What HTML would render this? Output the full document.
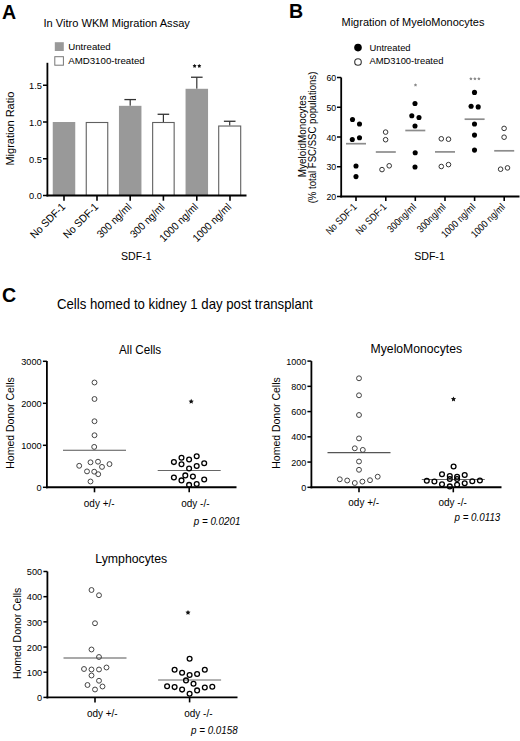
<!DOCTYPE html>
<html><head><meta charset="utf-8"><style>
html,body{margin:0;padding:0;background:#fff;}
svg{display:block;font-family:"Liberation Sans", sans-serif;}
</style></head><body>
<svg width="520" height="741" viewBox="0 0 520 741">
<rect x="0" y="0" width="520" height="741" fill="#fff"/>
<text transform="translate(1.90 18.70) scale(1 1.04)" font-size="19.6" text-anchor="start" font-weight="bold" font-style="normal" fill="#000">A</text>
<text transform="translate(43.50 27.00) scale(1 1.06)" font-size="11.1" text-anchor="start" font-weight="normal" font-style="normal" fill="#000">In Vitro WKM Migration Assay</text>
<rect x="54.80" y="42.20" width="9.00" height="8.80" fill="#999" stroke="none" stroke-width="1"/>
<text transform="translate(68.20 49.50)" font-size="9.7" text-anchor="start" font-weight="normal" font-style="normal" fill="#000">Untreated</text>
<rect x="54.80" y="56.70" width="8.60" height="8.50" fill="#fff" stroke="#777" stroke-width="1"/>
<text transform="translate(68.20 63.50)" font-size="9.7" text-anchor="start" font-weight="normal" font-style="normal" fill="#000">AMD3100-treated</text>
<rect x="52.75" y="122.00" width="22.50" height="73.50" fill="#999" stroke="none" stroke-width="1"/>
<rect x="86.25" y="122.50" width="21.50" height="73.00" fill="#fff" stroke="#606060" stroke-width="1.1"/>
<line x1="130.20" y1="99.58" x2="130.20" y2="105.83" stroke="#333" stroke-width="1.2"/>
<line x1="124.40" y1="99.58" x2="136.00" y2="99.58" stroke="#333" stroke-width="1.3"/>
<rect x="118.95" y="105.83" width="22.50" height="89.67" fill="#999" stroke="none" stroke-width="1"/>
<line x1="163.40" y1="114.28" x2="163.40" y2="122.00" stroke="#333" stroke-width="1.2"/>
<line x1="157.60" y1="114.28" x2="169.20" y2="114.28" stroke="#333" stroke-width="1.3"/>
<rect x="152.65" y="122.50" width="21.50" height="73.00" fill="#fff" stroke="#606060" stroke-width="1.1"/>
<line x1="196.80" y1="77.24" x2="196.80" y2="88.78" stroke="#333" stroke-width="1.2"/>
<line x1="191.00" y1="77.24" x2="202.60" y2="77.24" stroke="#333" stroke-width="1.3"/>
<rect x="185.55" y="88.78" width="22.50" height="106.72" fill="#999" stroke="none" stroke-width="1"/>
<line x1="229.70" y1="121.27" x2="229.70" y2="125.53" stroke="#333" stroke-width="1.2"/>
<line x1="223.90" y1="121.27" x2="235.50" y2="121.27" stroke="#333" stroke-width="1.3"/>
<rect x="218.70" y="126.03" width="22.00" height="69.47" fill="#fff" stroke="#606060" stroke-width="1.1"/>
<line x1="47.40" y1="62.80" x2="47.40" y2="196.40" stroke="#000" stroke-width="1.8"/>
<line x1="43.00" y1="195.50" x2="47.40" y2="195.50" stroke="#000" stroke-width="1.5"/>
<text transform="translate(42.00 199.36) scale(1 1.07)" font-size="9.3" text-anchor="end" font-weight="normal" font-style="normal" fill="#000">0.0</text>
<line x1="43.00" y1="158.75" x2="47.40" y2="158.75" stroke="#000" stroke-width="1.5"/>
<text transform="translate(42.00 162.61) scale(1 1.07)" font-size="9.3" text-anchor="end" font-weight="normal" font-style="normal" fill="#000">0.5</text>
<line x1="43.00" y1="122.00" x2="47.40" y2="122.00" stroke="#000" stroke-width="1.5"/>
<text transform="translate(42.00 125.86) scale(1 1.07)" font-size="9.3" text-anchor="end" font-weight="normal" font-style="normal" fill="#000">1.0</text>
<line x1="43.00" y1="85.25" x2="47.40" y2="85.25" stroke="#000" stroke-width="1.5"/>
<text transform="translate(42.00 89.11) scale(1 1.07)" font-size="9.3" text-anchor="end" font-weight="normal" font-style="normal" fill="#000">1.5</text>
<line x1="46.50" y1="195.50" x2="246.50" y2="195.50" stroke="#000" stroke-width="1.9"/>
<line x1="64.00" y1="195.50" x2="64.00" y2="200.70" stroke="#000" stroke-width="1.6"/>
<line x1="97.00" y1="195.50" x2="97.00" y2="200.70" stroke="#000" stroke-width="1.6"/>
<line x1="130.20" y1="195.50" x2="130.20" y2="200.70" stroke="#000" stroke-width="1.6"/>
<line x1="163.40" y1="195.50" x2="163.40" y2="200.70" stroke="#000" stroke-width="1.6"/>
<line x1="196.80" y1="195.50" x2="196.80" y2="200.70" stroke="#000" stroke-width="1.6"/>
<line x1="230.00" y1="195.50" x2="230.00" y2="200.70" stroke="#000" stroke-width="1.6"/>
<polygon points="194.60,63.90 195.28,65.07 196.60,65.35 195.70,66.36 195.83,67.70 194.60,67.16 193.37,67.70 193.50,66.36 192.60,65.35 193.92,65.07" fill="#111"/>
<polygon points="199.30,63.90 199.98,65.07 201.30,65.35 200.40,66.36 200.53,67.70 199.30,67.16 198.07,67.70 198.20,66.36 197.30,65.35 198.62,65.07" fill="#111"/>
<text transform="translate(66.00 207.60) rotate(-45) scale(1 1.08)" font-size="10" text-anchor="end" font-weight="normal" font-style="normal" fill="#000">No SDF-1</text>
<text transform="translate(99.00 207.60) rotate(-45) scale(1 1.08)" font-size="10" text-anchor="end" font-weight="normal" font-style="normal" fill="#000">No SDF-1</text>
<text transform="translate(132.20 207.60) rotate(-45) scale(1 1.08)" font-size="10" text-anchor="end" font-weight="normal" font-style="normal" fill="#000">300 ng/ml</text>
<text transform="translate(165.40 207.60) rotate(-45) scale(1 1.08)" font-size="10" text-anchor="end" font-weight="normal" font-style="normal" fill="#000">300 ng/ml</text>
<text transform="translate(198.80 207.60) rotate(-45) scale(1 1.08)" font-size="10" text-anchor="end" font-weight="normal" font-style="normal" fill="#000">1000 ng/ml</text>
<text transform="translate(232.00 207.60) rotate(-45) scale(1 1.08)" font-size="10" text-anchor="end" font-weight="normal" font-style="normal" fill="#000">1000 ng/ml</text>
<text transform="translate(121.00 260.10) scale(1 1.1)" font-size="10.6" text-anchor="start" font-weight="normal" font-style="normal" fill="#000">SDF-1</text>
<text transform="translate(14.00 128.60) rotate(-90) scale(1 1.07)" font-size="11" text-anchor="middle" font-weight="normal" font-style="normal" fill="#000">Migration Ratio</text>
<text transform="translate(289.00 18.30) scale(1 1.05)" font-size="19.6" text-anchor="start" font-weight="bold" font-style="normal" fill="#000">B</text>
<text transform="translate(341.50 25.90) scale(1 1.06)" font-size="11" text-anchor="start" font-weight="normal" font-style="normal" fill="#000">Migration of MyeloMonocytes</text>
<circle cx="358.00" cy="47.60" r="3.8" fill="#000" stroke="none" stroke-width="1"/>
<text transform="translate(369.40 50.50)" font-size="9.4" text-anchor="start" font-weight="normal" font-style="normal" fill="#000">Untreated</text>
<circle cx="358.00" cy="62.00" r="3.3" fill="#fff" stroke="#333" stroke-width="1.1"/>
<text transform="translate(369.40 64.00)" font-size="9.4" text-anchor="start" font-weight="normal" font-style="normal" fill="#000">AMD3100-treated</text>
<line x1="341.20" y1="77.50" x2="341.20" y2="197.40" stroke="#000" stroke-width="1.8"/>
<line x1="337.00" y1="196.50" x2="341.20" y2="196.50" stroke="#000" stroke-width="1.5"/>
<text transform="translate(336.20 200.11) scale(1 1.05)" font-size="8.8" text-anchor="end" font-weight="normal" font-style="normal" fill="#000">20</text>
<line x1="337.00" y1="166.75" x2="341.20" y2="166.75" stroke="#000" stroke-width="1.5"/>
<text transform="translate(336.20 170.36) scale(1 1.05)" font-size="8.8" text-anchor="end" font-weight="normal" font-style="normal" fill="#000">30</text>
<line x1="337.00" y1="137.00" x2="341.20" y2="137.00" stroke="#000" stroke-width="1.5"/>
<text transform="translate(336.20 140.61) scale(1 1.05)" font-size="8.8" text-anchor="end" font-weight="normal" font-style="normal" fill="#000">40</text>
<line x1="337.00" y1="107.25" x2="341.20" y2="107.25" stroke="#000" stroke-width="1.5"/>
<text transform="translate(336.20 110.86) scale(1 1.05)" font-size="8.8" text-anchor="end" font-weight="normal" font-style="normal" fill="#000">50</text>
<line x1="337.00" y1="77.50" x2="341.20" y2="77.50" stroke="#000" stroke-width="1.5"/>
<text transform="translate(336.20 81.11) scale(1 1.05)" font-size="8.8" text-anchor="end" font-weight="normal" font-style="normal" fill="#000">60</text>
<line x1="340.30" y1="196.50" x2="519.50" y2="196.50" stroke="#000" stroke-width="1.8"/>
<line x1="356.00" y1="196.50" x2="356.00" y2="201.00" stroke="#000" stroke-width="1.6"/>
<line x1="385.80" y1="196.50" x2="385.80" y2="201.00" stroke="#000" stroke-width="1.6"/>
<line x1="415.30" y1="196.50" x2="415.30" y2="201.00" stroke="#000" stroke-width="1.6"/>
<line x1="445.00" y1="196.50" x2="445.00" y2="201.00" stroke="#000" stroke-width="1.6"/>
<line x1="474.60" y1="196.50" x2="474.60" y2="201.00" stroke="#000" stroke-width="1.6"/>
<line x1="504.20" y1="196.50" x2="504.20" y2="201.00" stroke="#000" stroke-width="1.6"/>
<line x1="346.00" y1="143.70" x2="366.00" y2="143.70" stroke="#8c8c8c" stroke-width="1.7"/>
<circle cx="352.50" cy="119.50" r="2.55" fill="#000" stroke="none" stroke-width="1"/>
<circle cx="359.50" cy="124.00" r="2.55" fill="#000" stroke="none" stroke-width="1"/>
<circle cx="352.30" cy="139.50" r="2.55" fill="#000" stroke="none" stroke-width="1"/>
<circle cx="359.50" cy="137.80" r="2.55" fill="#000" stroke="none" stroke-width="1"/>
<circle cx="356.00" cy="166.00" r="2.55" fill="#000" stroke="none" stroke-width="1"/>
<circle cx="356.00" cy="176.60" r="2.55" fill="#000" stroke="none" stroke-width="1"/>
<line x1="375.80" y1="152.00" x2="395.80" y2="152.00" stroke="#8c8c8c" stroke-width="1.7"/>
<circle cx="385.60" cy="132.10" r="2.3" fill="#fff" stroke="#333" stroke-width="1.0"/>
<circle cx="385.60" cy="139.70" r="2.3" fill="#fff" stroke="#333" stroke-width="1.0"/>
<circle cx="389.20" cy="165.80" r="2.3" fill="#fff" stroke="#333" stroke-width="1.0"/>
<circle cx="382.00" cy="169.60" r="2.3" fill="#fff" stroke="#333" stroke-width="1.0"/>
<line x1="405.30" y1="130.50" x2="425.30" y2="130.50" stroke="#8c8c8c" stroke-width="1.7"/>
<circle cx="415.00" cy="103.50" r="2.55" fill="#000" stroke="none" stroke-width="1"/>
<circle cx="411.80" cy="115.80" r="2.55" fill="#000" stroke="none" stroke-width="1"/>
<circle cx="419.00" cy="117.50" r="2.55" fill="#000" stroke="none" stroke-width="1"/>
<circle cx="415.00" cy="126.00" r="2.55" fill="#000" stroke="none" stroke-width="1"/>
<circle cx="415.20" cy="152.80" r="2.55" fill="#000" stroke="none" stroke-width="1"/>
<circle cx="415.00" cy="167.00" r="2.55" fill="#000" stroke="none" stroke-width="1"/>
<line x1="435.00" y1="151.90" x2="455.00" y2="151.90" stroke="#8c8c8c" stroke-width="1.7"/>
<circle cx="441.30" cy="138.80" r="2.3" fill="#fff" stroke="#333" stroke-width="1.0"/>
<circle cx="448.50" cy="139.20" r="2.3" fill="#fff" stroke="#333" stroke-width="1.0"/>
<circle cx="441.30" cy="166.50" r="2.3" fill="#fff" stroke="#333" stroke-width="1.0"/>
<circle cx="448.50" cy="164.60" r="2.3" fill="#fff" stroke="#333" stroke-width="1.0"/>
<line x1="464.60" y1="119.20" x2="484.60" y2="119.20" stroke="#8c8c8c" stroke-width="1.7"/>
<circle cx="474.50" cy="92.40" r="2.55" fill="#000" stroke="none" stroke-width="1"/>
<circle cx="471.10" cy="106.20" r="2.55" fill="#000" stroke="none" stroke-width="1"/>
<circle cx="478.20" cy="106.90" r="2.55" fill="#000" stroke="none" stroke-width="1"/>
<circle cx="474.50" cy="124.00" r="2.55" fill="#000" stroke="none" stroke-width="1"/>
<circle cx="474.50" cy="135.10" r="2.55" fill="#000" stroke="none" stroke-width="1"/>
<circle cx="474.50" cy="150.10" r="2.55" fill="#000" stroke="none" stroke-width="1"/>
<line x1="494.20" y1="150.80" x2="514.20" y2="150.80" stroke="#8c8c8c" stroke-width="1.7"/>
<circle cx="504.10" cy="128.40" r="2.3" fill="#fff" stroke="#333" stroke-width="1.0"/>
<circle cx="504.10" cy="137.20" r="2.3" fill="#fff" stroke="#333" stroke-width="1.0"/>
<circle cx="500.60" cy="169.20" r="2.3" fill="#fff" stroke="#333" stroke-width="1.0"/>
<circle cx="507.50" cy="167.90" r="2.3" fill="#fff" stroke="#333" stroke-width="1.0"/>
<polygon points="415.50,83.30 416.08,84.30 417.21,84.54 416.44,85.41 416.56,86.56 415.50,86.09 414.44,86.56 414.56,85.41 413.79,84.54 414.92,84.30" fill="#8a8a8a"/>
<polygon points="470.90,76.90 471.48,77.90 472.61,78.14 471.84,79.01 471.96,80.16 470.90,79.69 469.84,80.16 469.96,79.01 469.19,78.14 470.32,77.90" fill="#8a8a8a"/>
<polygon points="474.90,76.90 475.48,77.90 476.61,78.14 475.84,79.01 475.96,80.16 474.90,79.69 473.84,80.16 473.96,79.01 473.19,78.14 474.32,77.90" fill="#8a8a8a"/>
<polygon points="478.90,76.90 479.48,77.90 480.61,78.14 479.84,79.01 479.96,80.16 478.90,79.69 477.84,80.16 477.96,79.01 477.19,78.14 478.32,77.90" fill="#8a8a8a"/>
<text transform="translate(357.50 207.60) rotate(-45) scale(1 1.15)" font-size="8.8" text-anchor="end" font-weight="normal" font-style="normal" fill="#000">No SDF-1</text>
<text transform="translate(387.30 207.60) rotate(-45) scale(1 1.15)" font-size="8.8" text-anchor="end" font-weight="normal" font-style="normal" fill="#000">No SDF-1</text>
<text transform="translate(416.80 207.60) rotate(-45) scale(1 1.15)" font-size="8.8" text-anchor="end" font-weight="normal" font-style="normal" fill="#000">300ng/ml</text>
<text transform="translate(446.50 207.60) rotate(-45) scale(1 1.15)" font-size="8.8" text-anchor="end" font-weight="normal" font-style="normal" fill="#000">300ng/ml</text>
<text transform="translate(476.10 207.60) rotate(-45) scale(1 1.15)" font-size="8.8" text-anchor="end" font-weight="normal" font-style="normal" fill="#000">1000 ng/ml</text>
<text transform="translate(505.70 207.60) rotate(-45) scale(1 1.15)" font-size="8.8" text-anchor="end" font-weight="normal" font-style="normal" fill="#000">1000 ng/ml</text>
<text transform="translate(414.20 260.40) scale(1 1.1)" font-size="10.6" text-anchor="start" font-weight="normal" font-style="normal" fill="#000">SDF-1</text>
<text transform="translate(305.80 136.20) rotate(-90) scale(1 1.08)" font-size="9.9" text-anchor="middle" font-weight="normal" font-style="normal" fill="#000">MyeloidMonocytes</text>
<text transform="translate(316.30 137.50) rotate(-90) scale(1 1.08)" font-size="9.6" text-anchor="middle" font-weight="normal" font-style="normal" fill="#000">(% total FSC/SSC populations)</text>
<text transform="translate(2.00 301.90) scale(1 1.05)" font-size="19.6" text-anchor="start" font-weight="bold" font-style="normal" fill="#000">C</text>
<text transform="translate(57.00 309.30) scale(1 1.05)" font-size="13.2" text-anchor="start" font-weight="normal" font-style="normal" fill="#000">Cells homed to kidney 1 day post transplant</text>
<text transform="translate(119.00 354.20) scale(1 1.04)" font-size="11.7" text-anchor="start" font-weight="normal" font-style="normal" fill="#000">All Cells</text>
<line x1="46.90" y1="361.00" x2="46.90" y2="488.30" stroke="#000" stroke-width="1.8"/>
<line x1="42.90" y1="487.30" x2="46.90" y2="487.30" stroke="#000" stroke-width="1.5"/>
<text transform="translate(41.70 490.99)" font-size="9.2" text-anchor="end" font-weight="normal" font-style="normal" fill="#000">0</text>
<line x1="42.90" y1="445.30" x2="46.90" y2="445.30" stroke="#000" stroke-width="1.5"/>
<text transform="translate(41.70 448.99)" font-size="9.2" text-anchor="end" font-weight="normal" font-style="normal" fill="#000">1000</text>
<line x1="42.90" y1="403.30" x2="46.90" y2="403.30" stroke="#000" stroke-width="1.5"/>
<text transform="translate(41.70 406.99)" font-size="9.2" text-anchor="end" font-weight="normal" font-style="normal" fill="#000">2000</text>
<line x1="42.90" y1="361.30" x2="46.90" y2="361.30" stroke="#000" stroke-width="1.5"/>
<text transform="translate(41.70 364.99)" font-size="9.2" text-anchor="end" font-weight="normal" font-style="normal" fill="#000">3000</text>
<line x1="46.00" y1="487.30" x2="236.50" y2="487.30" stroke="#000" stroke-width="1.9"/>
<line x1="94.50" y1="487.30" x2="94.50" y2="492.30" stroke="#000" stroke-width="1.6"/>
<line x1="189.20" y1="487.30" x2="189.20" y2="492.30" stroke="#000" stroke-width="1.6"/>
<line x1="63.00" y1="450.30" x2="126.00" y2="450.30" stroke="#555" stroke-width="1.1"/>
<line x1="157.70" y1="470.50" x2="220.70" y2="470.50" stroke="#666" stroke-width="1.0"/>
<circle cx="94.50" cy="382.50" r="2.45" fill="none" stroke="#444" stroke-width="1.0"/>
<circle cx="94.50" cy="399.00" r="2.45" fill="none" stroke="#444" stroke-width="1.0"/>
<circle cx="94.50" cy="421.25" r="2.45" fill="none" stroke="#444" stroke-width="1.0"/>
<circle cx="94.50" cy="435.25" r="2.45" fill="none" stroke="#444" stroke-width="1.0"/>
<circle cx="94.20" cy="446.90" r="2.45" fill="none" stroke="#444" stroke-width="1.0"/>
<circle cx="90.50" cy="462.30" r="2.45" fill="none" stroke="#444" stroke-width="1.0"/>
<circle cx="98.00" cy="461.70" r="2.45" fill="none" stroke="#444" stroke-width="1.0"/>
<circle cx="79.20" cy="465.80" r="2.45" fill="none" stroke="#444" stroke-width="1.0"/>
<circle cx="102.00" cy="466.90" r="2.45" fill="none" stroke="#444" stroke-width="1.0"/>
<circle cx="109.50" cy="464.10" r="2.45" fill="none" stroke="#444" stroke-width="1.0"/>
<circle cx="87.00" cy="471.40" r="2.45" fill="none" stroke="#444" stroke-width="1.0"/>
<circle cx="94.20" cy="471.70" r="2.45" fill="none" stroke="#444" stroke-width="1.0"/>
<circle cx="98.20" cy="474.20" r="2.45" fill="none" stroke="#444" stroke-width="1.0"/>
<circle cx="90.50" cy="481.50" r="2.45" fill="none" stroke="#444" stroke-width="1.0"/>
<circle cx="173.90" cy="462.10" r="2.4" fill="none" stroke="#000" stroke-width="1.3"/>
<circle cx="181.50" cy="457.70" r="2.4" fill="none" stroke="#000" stroke-width="1.3"/>
<circle cx="181.50" cy="464.30" r="2.4" fill="none" stroke="#000" stroke-width="1.3"/>
<circle cx="189.10" cy="459.50" r="2.4" fill="none" stroke="#000" stroke-width="1.3"/>
<circle cx="196.70" cy="456.30" r="2.4" fill="none" stroke="#000" stroke-width="1.3"/>
<circle cx="196.70" cy="466.00" r="2.4" fill="none" stroke="#000" stroke-width="1.3"/>
<circle cx="204.20" cy="463.30" r="2.4" fill="none" stroke="#000" stroke-width="1.3"/>
<circle cx="189.10" cy="468.50" r="2.4" fill="none" stroke="#000" stroke-width="1.3"/>
<circle cx="173.90" cy="477.50" r="2.4" fill="none" stroke="#000" stroke-width="1.3"/>
<circle cx="185.30" cy="475.40" r="2.4" fill="none" stroke="#000" stroke-width="1.3"/>
<circle cx="192.90" cy="476.60" r="2.4" fill="none" stroke="#000" stroke-width="1.3"/>
<circle cx="181.50" cy="480.40" r="2.4" fill="none" stroke="#000" stroke-width="1.3"/>
<circle cx="204.20" cy="479.50" r="2.4" fill="none" stroke="#000" stroke-width="1.3"/>
<circle cx="189.10" cy="484.90" r="2.4" fill="none" stroke="#000" stroke-width="1.3"/>
<circle cx="196.70" cy="484.00" r="2.4" fill="none" stroke="#000" stroke-width="1.3"/>
<polygon points="191.20,398.80 191.99,400.41 193.77,400.67 192.48,401.92 192.79,403.68 191.20,402.85 189.61,403.68 189.92,401.92 188.63,400.67 190.41,400.41" fill="#111"/>
<text transform="translate(83.80 506.50) scale(1 1.08)" font-size="10" text-anchor="start" font-weight="normal" font-style="normal" fill="#000">ody +/-</text>
<text transform="translate(181.20 506.50) scale(1 1.08)" font-size="10" text-anchor="start" font-weight="normal" font-style="normal" fill="#000">ody -/-</text>
<text transform="translate(193.80 525.20) scale(1 1.12)" font-size="9.8" text-anchor="start" font-weight="normal" font-style="italic" fill="#000">p = 0.0201</text>
<text transform="translate(14.00 423.00) rotate(-90) scale(1 1.08)" font-size="10.5" text-anchor="middle" font-weight="normal" font-style="normal" fill="#000">Homed Donor Cells</text>
<text transform="translate(370.60 353.30) scale(1 1.04)" font-size="12.2" text-anchor="start" font-weight="normal" font-style="normal" fill="#000">MyeloMonocytes</text>
<line x1="311.40" y1="361.10" x2="311.40" y2="488.30" stroke="#000" stroke-width="1.8"/>
<line x1="307.40" y1="487.30" x2="311.40" y2="487.30" stroke="#000" stroke-width="1.5"/>
<text transform="translate(306.20 490.92)" font-size="9.0" text-anchor="end" font-weight="normal" font-style="normal" fill="#000">0</text>
<line x1="307.40" y1="462.06" x2="311.40" y2="462.06" stroke="#000" stroke-width="1.5"/>
<text transform="translate(306.20 465.68)" font-size="9.0" text-anchor="end" font-weight="normal" font-style="normal" fill="#000">200</text>
<line x1="307.40" y1="436.82" x2="311.40" y2="436.82" stroke="#000" stroke-width="1.5"/>
<text transform="translate(306.20 440.44)" font-size="9.0" text-anchor="end" font-weight="normal" font-style="normal" fill="#000">400</text>
<line x1="307.40" y1="411.58" x2="311.40" y2="411.58" stroke="#000" stroke-width="1.5"/>
<text transform="translate(306.20 415.20)" font-size="9.0" text-anchor="end" font-weight="normal" font-style="normal" fill="#000">600</text>
<line x1="307.40" y1="386.34" x2="311.40" y2="386.34" stroke="#000" stroke-width="1.5"/>
<text transform="translate(306.20 389.96)" font-size="9.0" text-anchor="end" font-weight="normal" font-style="normal" fill="#000">800</text>
<line x1="307.40" y1="361.10" x2="311.40" y2="361.10" stroke="#000" stroke-width="1.5"/>
<text transform="translate(306.20 364.72)" font-size="9.0" text-anchor="end" font-weight="normal" font-style="normal" fill="#000">1000</text>
<line x1="310.50" y1="487.30" x2="501.50" y2="487.30" stroke="#000" stroke-width="1.9"/>
<line x1="359.00" y1="487.30" x2="359.00" y2="492.30" stroke="#000" stroke-width="1.6"/>
<line x1="453.30" y1="487.30" x2="453.30" y2="492.30" stroke="#000" stroke-width="1.6"/>
<line x1="327.50" y1="452.60" x2="390.50" y2="452.60" stroke="#555" stroke-width="1.1"/>
<line x1="421.80" y1="479.50" x2="484.80" y2="479.50" stroke="#666" stroke-width="1.0"/>
<circle cx="359.00" cy="378.30" r="2.45" fill="none" stroke="#444" stroke-width="1.0"/>
<circle cx="359.00" cy="395.30" r="2.45" fill="none" stroke="#444" stroke-width="1.0"/>
<circle cx="359.00" cy="415.00" r="2.45" fill="none" stroke="#444" stroke-width="1.0"/>
<circle cx="359.00" cy="438.40" r="2.45" fill="none" stroke="#444" stroke-width="1.0"/>
<circle cx="354.80" cy="448.30" r="2.45" fill="none" stroke="#444" stroke-width="1.0"/>
<circle cx="362.80" cy="449.90" r="2.45" fill="none" stroke="#444" stroke-width="1.0"/>
<circle cx="359.00" cy="461.50" r="2.45" fill="none" stroke="#444" stroke-width="1.0"/>
<circle cx="359.00" cy="469.80" r="2.45" fill="none" stroke="#444" stroke-width="1.0"/>
<circle cx="339.80" cy="479.30" r="2.45" fill="none" stroke="#444" stroke-width="1.0"/>
<circle cx="347.20" cy="480.50" r="2.45" fill="none" stroke="#444" stroke-width="1.0"/>
<circle cx="354.80" cy="483.00" r="2.45" fill="none" stroke="#444" stroke-width="1.0"/>
<circle cx="362.40" cy="481.60" r="2.45" fill="none" stroke="#444" stroke-width="1.0"/>
<circle cx="370.00" cy="480.20" r="2.45" fill="none" stroke="#444" stroke-width="1.0"/>
<circle cx="377.70" cy="476.70" r="2.45" fill="none" stroke="#444" stroke-width="1.0"/>
<circle cx="453.60" cy="466.50" r="2.4" fill="none" stroke="#000" stroke-width="1.3"/>
<circle cx="442.00" cy="474.30" r="2.4" fill="none" stroke="#000" stroke-width="1.3"/>
<circle cx="464.70" cy="475.00" r="2.4" fill="none" stroke="#000" stroke-width="1.3"/>
<circle cx="449.80" cy="476.00" r="2.4" fill="none" stroke="#000" stroke-width="1.3"/>
<circle cx="457.10" cy="476.70" r="2.4" fill="none" stroke="#000" stroke-width="1.3"/>
<circle cx="449.80" cy="479.00" r="2.4" fill="none" stroke="#000" stroke-width="1.3"/>
<circle cx="457.10" cy="479.00" r="2.4" fill="none" stroke="#000" stroke-width="1.3"/>
<circle cx="426.80" cy="480.80" r="2.4" fill="none" stroke="#000" stroke-width="1.3"/>
<circle cx="434.40" cy="481.50" r="2.4" fill="none" stroke="#000" stroke-width="1.3"/>
<circle cx="472.30" cy="481.20" r="2.4" fill="none" stroke="#000" stroke-width="1.3"/>
<circle cx="479.90" cy="480.50" r="2.4" fill="none" stroke="#000" stroke-width="1.3"/>
<circle cx="442.00" cy="484.30" r="2.4" fill="none" stroke="#000" stroke-width="1.3"/>
<circle cx="457.10" cy="484.70" r="2.4" fill="none" stroke="#000" stroke-width="1.3"/>
<circle cx="464.70" cy="483.30" r="2.4" fill="none" stroke="#000" stroke-width="1.3"/>
<circle cx="449.80" cy="486.40" r="2.4" fill="none" stroke="#000" stroke-width="1.3"/>
<polygon points="453.50,396.50 454.29,398.11 456.07,398.37 454.78,399.62 455.09,401.38 453.50,400.55 451.91,401.38 452.22,399.62 450.93,398.37 452.71,398.11" fill="#111"/>
<text transform="translate(348.30 506.40) scale(1 1.08)" font-size="10" text-anchor="start" font-weight="normal" font-style="normal" fill="#000">ody +/-</text>
<text transform="translate(438.50 506.40) scale(1 1.08)" font-size="10" text-anchor="start" font-weight="normal" font-style="normal" fill="#000">ody -/-</text>
<text transform="translate(454.50 520.50) scale(1 1.12)" font-size="9.8" text-anchor="start" font-weight="normal" font-style="italic" fill="#000">p = 0.0113</text>
<text transform="translate(279.50 423.00) rotate(-90) scale(1 1.08)" font-size="10.5" text-anchor="middle" font-weight="normal" font-style="normal" fill="#000">Homed Donor Cells</text>
<text transform="translate(95.30 563.30) scale(1 1.04)" font-size="12.3" text-anchor="start" font-weight="normal" font-style="normal" fill="#000">Lymphocytes</text>
<line x1="47.40" y1="571.50" x2="47.40" y2="698.40" stroke="#000" stroke-width="1.8"/>
<line x1="43.40" y1="697.40" x2="47.40" y2="697.40" stroke="#000" stroke-width="1.5"/>
<text transform="translate(42.20 701.09)" font-size="9.2" text-anchor="end" font-weight="normal" font-style="normal" fill="#000">0</text>
<line x1="43.40" y1="672.22" x2="47.40" y2="672.22" stroke="#000" stroke-width="1.5"/>
<text transform="translate(42.20 675.91)" font-size="9.2" text-anchor="end" font-weight="normal" font-style="normal" fill="#000">100</text>
<line x1="43.40" y1="647.04" x2="47.40" y2="647.04" stroke="#000" stroke-width="1.5"/>
<text transform="translate(42.20 650.73)" font-size="9.2" text-anchor="end" font-weight="normal" font-style="normal" fill="#000">200</text>
<line x1="43.40" y1="621.86" x2="47.40" y2="621.86" stroke="#000" stroke-width="1.5"/>
<text transform="translate(42.20 625.55)" font-size="9.2" text-anchor="end" font-weight="normal" font-style="normal" fill="#000">300</text>
<line x1="43.40" y1="596.68" x2="47.40" y2="596.68" stroke="#000" stroke-width="1.5"/>
<text transform="translate(42.20 600.37)" font-size="9.2" text-anchor="end" font-weight="normal" font-style="normal" fill="#000">400</text>
<line x1="43.40" y1="571.50" x2="47.40" y2="571.50" stroke="#000" stroke-width="1.5"/>
<text transform="translate(42.20 575.19)" font-size="9.2" text-anchor="end" font-weight="normal" font-style="normal" fill="#000">500</text>
<line x1="46.50" y1="697.40" x2="237.50" y2="697.40" stroke="#000" stroke-width="1.9"/>
<line x1="95.00" y1="697.40" x2="95.00" y2="702.40" stroke="#000" stroke-width="1.6"/>
<line x1="189.60" y1="697.40" x2="189.60" y2="702.40" stroke="#000" stroke-width="1.6"/>
<line x1="63.50" y1="658.00" x2="126.50" y2="658.00" stroke="#555" stroke-width="1.1"/>
<line x1="158.10" y1="680.00" x2="221.10" y2="680.00" stroke="#666" stroke-width="1.0"/>
<circle cx="91.50" cy="590.00" r="2.45" fill="none" stroke="#444" stroke-width="1.0"/>
<circle cx="99.00" cy="595.25" r="2.45" fill="none" stroke="#444" stroke-width="1.0"/>
<circle cx="95.00" cy="623.25" r="2.45" fill="none" stroke="#444" stroke-width="1.0"/>
<circle cx="91.50" cy="649.50" r="2.45" fill="none" stroke="#444" stroke-width="1.0"/>
<circle cx="99.00" cy="657.00" r="2.45" fill="none" stroke="#444" stroke-width="1.0"/>
<circle cx="84.00" cy="669.00" r="2.45" fill="none" stroke="#444" stroke-width="1.0"/>
<circle cx="91.50" cy="669.50" r="2.45" fill="none" stroke="#444" stroke-width="1.0"/>
<circle cx="99.00" cy="669.50" r="2.45" fill="none" stroke="#444" stroke-width="1.0"/>
<circle cx="106.50" cy="667.50" r="2.45" fill="none" stroke="#444" stroke-width="1.0"/>
<circle cx="91.50" cy="675.50" r="2.45" fill="none" stroke="#444" stroke-width="1.0"/>
<circle cx="99.00" cy="680.75" r="2.45" fill="none" stroke="#444" stroke-width="1.0"/>
<circle cx="87.50" cy="685.00" r="2.45" fill="none" stroke="#444" stroke-width="1.0"/>
<circle cx="102.50" cy="686.50" r="2.45" fill="none" stroke="#444" stroke-width="1.0"/>
<circle cx="95.00" cy="689.50" r="2.45" fill="none" stroke="#444" stroke-width="1.0"/>
<circle cx="189.60" cy="658.70" r="2.4" fill="none" stroke="#000" stroke-width="1.3"/>
<circle cx="174.60" cy="669.80" r="2.4" fill="none" stroke="#000" stroke-width="1.3"/>
<circle cx="182.10" cy="672.70" r="2.4" fill="none" stroke="#000" stroke-width="1.3"/>
<circle cx="189.60" cy="675.00" r="2.4" fill="none" stroke="#000" stroke-width="1.3"/>
<circle cx="197.10" cy="674.00" r="2.4" fill="none" stroke="#000" stroke-width="1.3"/>
<circle cx="204.80" cy="669.80" r="2.4" fill="none" stroke="#000" stroke-width="1.3"/>
<circle cx="186.00" cy="680.40" r="2.4" fill="none" stroke="#000" stroke-width="1.3"/>
<circle cx="193.50" cy="683.70" r="2.4" fill="none" stroke="#000" stroke-width="1.3"/>
<circle cx="167.10" cy="686.20" r="2.4" fill="none" stroke="#000" stroke-width="1.3"/>
<circle cx="174.60" cy="687.10" r="2.4" fill="none" stroke="#000" stroke-width="1.3"/>
<circle cx="182.10" cy="689.60" r="2.4" fill="none" stroke="#000" stroke-width="1.3"/>
<circle cx="197.10" cy="690.40" r="2.4" fill="none" stroke="#000" stroke-width="1.3"/>
<circle cx="204.80" cy="687.50" r="2.4" fill="none" stroke="#000" stroke-width="1.3"/>
<circle cx="212.30" cy="686.70" r="2.4" fill="none" stroke="#000" stroke-width="1.3"/>
<circle cx="189.60" cy="693.80" r="2.4" fill="none" stroke="#000" stroke-width="1.3"/>
<polygon points="188.00,609.90 188.79,611.51 190.57,611.77 189.28,613.02 189.59,614.78 188.00,613.95 186.41,614.78 186.72,613.02 185.43,611.77 187.21,611.51" fill="#111"/>
<text transform="translate(86.90 716.80) scale(1 1.08)" font-size="10" text-anchor="start" font-weight="normal" font-style="normal" fill="#000">ody +/-</text>
<text transform="translate(184.20 716.80) scale(1 1.08)" font-size="10" text-anchor="start" font-weight="normal" font-style="normal" fill="#000">ody -/-</text>
<text transform="translate(191.10 733.60) scale(1 1.12)" font-size="9.8" text-anchor="start" font-weight="normal" font-style="italic" fill="#000">p = 0.0158</text>
<text transform="translate(21.00 633.40) rotate(-90) scale(1 1.08)" font-size="10.5" text-anchor="middle" font-weight="normal" font-style="normal" fill="#000">Homed Donor Cells</text>
</svg>
</body></html>
